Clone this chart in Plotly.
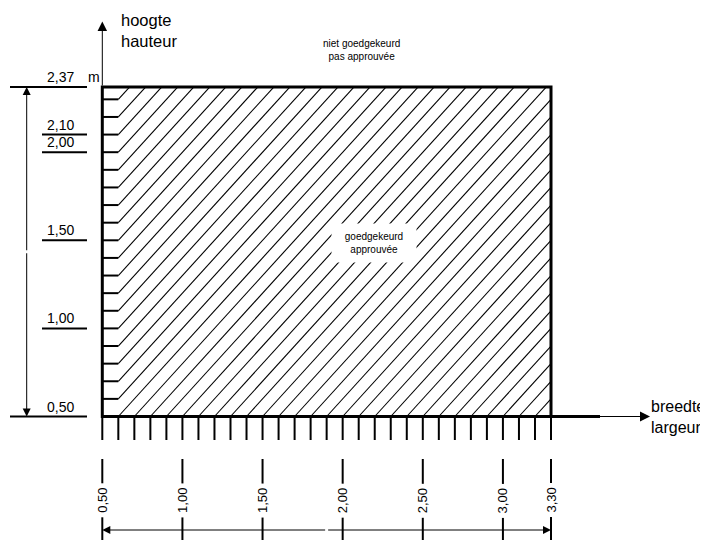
import numpy as np
import plotly.graph_objects as go

# ---------------- data ----------------
approved_width = [0.50, 3.30]      # breedte / largeur (m)
approved_height = [0.50, 2.37]     # hoogte / hauteur (m)
width_ticks = [0.50, 1.00, 1.50, 2.00, 2.50, 3.00, 3.30]
width_labels = ["0,50", "1,00", "1,50", "2,00", "2,50", "3,00", "3,30"]
height_ticks = [0.50, 1.00, 1.50, 2.00, 2.10, 2.37]
height_labels = ["0,50", "1,00", "1,50", "2,00", "2,10", "2,37"]
grid_step = 0.10
area_labels = ["goedgekeurd<br>approuvée", "niet goedgekeurd<br>pas approuvée"]
axis_titles = ["breedte<br>largeur", "hoogte<br>hauteur"]
unit_label = "m"

# ---------------- canvas geometry ----------------
PAGE_OFFSET = 8                       # default body margin of the html page
W, H = 708 - PAGE_OFFSET, 540 - PAGE_OFFSET
X_ORIGIN_PX, X_SCALE = 102.3, 160.25   # window pixel of x=0.50, px per metre
Y_ORIGIN_PX, Y_SCALE = 416.5, 176.2    # window pixel of y=0.50, px per metre
x_range = [approved_width[0] - (X_ORIGIN_PX - PAGE_OFFSET) / X_SCALE,
           approved_width[0] + (PAGE_OFFSET + W - X_ORIGIN_PX) / X_SCALE]
y_range = [approved_height[0] - (PAGE_OFFSET + H - Y_ORIGIN_PX) / Y_SCALE,
           approved_height[0] + (Y_ORIGIN_PX - PAGE_OFFSET) / Y_SCALE]


def px_x(p):
    return x_range[0] + (p - PAGE_OFFSET) / X_SCALE


def px_y(p):
    return y_range[1] - (p - PAGE_OFFSET) / Y_SCALE


FONT = "Arial, Liberation Sans, sans-serif"
BLACK = "#000000"

xa, xb = approved_width
ya, yb = approved_height

fig = go.Figure()

# ---- hatch (lines y = x + c) inside [xa+step, xb] x [ya, yb] ----
hx0 = xa + grid_step
hx, hy = [], []
n_neg = int(round((xb - hx0) / grid_step))
n_pos = int(round((yb - ya) / grid_step))
for k in range(-n_neg, n_pos + 1):
    c = ya - hx0 + k * grid_step
    xs = max(hx0, ya - c)
    xe = min(xb, yb - c)
    if xe - xs > 1e-6:
        hx += [xs, xe, None]
        hy += [xs + c, xe + c, None]
fig.add_trace(go.Scatter(x=hx, y=hy, mode="lines", hoverinfo="skip",
                         line=dict(color=BLACK, width=1.1), showlegend=False))

# ---- left inner ticks (every grid step) ----
lx, ly = [], []
n_left = int(round((yb - ya) / grid_step))
for k in range(1, n_left + 1):
    yv = ya + k * grid_step
    if yv < yb - 1e-6:
        lx += [xa, hx0, None]
        ly += [yv, yv, None]
fig.add_trace(go.Scatter(x=lx, y=ly, mode="lines", hoverinfo="skip",
                         line=dict(color=BLACK, width=2), showlegend=False))

# ---- bottom ticks (every grid step) ----
bx, by = [], []
n_bot = int(round((xb - xa) / grid_step))
for k in range(0, n_bot + 1):
    xv = xa + k * grid_step
    bx += [xv, xv, None]
    by += [ya, px_y(440), None]
fig.add_trace(go.Scatter(x=bx, y=by, mode="lines", hoverinfo="skip",
                         line=dict(color=BLACK, width=2), showlegend=False))

# ---- bottom label guide lines ----
gx, gy = [], []
for xv in width_ticks:
    gx += [xv, xv, None]
    gy += [px_y(459), px_y(548), None]
fig.add_trace(go.Scatter(x=gx, y=gy, mode="lines", hoverinfo="skip",
                         line=dict(color=BLACK, width=2), showlegend=False))

# ---- left label underlines ----
ux, uy = [], []
for yv in height_ticks:
    start = 10 if yv in (min(height_ticks), max(height_ticks)) else 42
    ux += [px_x(start), px_x(87), None]
    uy += [yv, yv, None]
fig.add_trace(go.Scatter(x=ux, y=uy, mode="lines", hoverinfo="skip",
                         line=dict(color=BLACK, width=2), showlegend=False))

# ---- approved area outline + baseline extension ----
fig.add_shape(type="rect", x0=xa, x1=xb, y0=ya, y1=yb,
              line=dict(color=BLACK, width=3), layer="above")
fig.add_shape(type="line", x0=xb, x1=px_x(600), y0=ya, y1=ya,
              line=dict(color=BLACK, width=3), layer="above")

annotations = []


def arrow(x_head, y_head, x_tail, y_tail, size=2.0, width=1.0):
    annotations.append(dict(
        x=x_head, y=y_head, ax=x_tail, ay=y_tail, xref="x", yref="y",
        axref="x", ayref="y", text="", showarrow=True, arrowhead=2,
        arrowsize=size, arrowwidth=width, arrowcolor=BLACK,
        font=dict(size=1), standoff=0, startstandoff=0))


# axis arrows
arrow(xa, px_y(21.5), xa, yb, size=1.9)
arrow(px_x(650), ya, px_x(578), ya, size=2.0)
# vertical dimension arrow
dim_x = px_x(26.7)
ymid = (ya + yb) / 2
arrow(dim_x, yb, dim_x, ymid, size=1.6)
arrow(dim_x, ya, dim_x, ymid, size=1.6)
# horizontal dimension arrow
dim_y = px_y(530)
xmid = (xa + xb) / 2
arrow(xa, dim_y, xmid, dim_y, size=1.6)
arrow(xb, dim_y, xmid, dim_y, size=1.6)

# height labels
for yv, lab in zip(height_ticks, height_labels):
    annotations.append(dict(x=px_x(76), y=yv, xref="x", yref="y", text=lab,
                            showarrow=False, xanchor="right", yanchor="bottom",
                            font=dict(family=FONT, size=14, color=BLACK)))
# width labels (rotated)
for xv, lab in zip(width_ticks, width_labels):
    annotations.append(dict(x=xv, y=px_y(500.5), xref="x", yref="y", text=lab,
                            showarrow=False, textangle=-90, bgcolor="white",
                            borderpad=4,
                            font=dict(family=FONT, size=13, color=BLACK)))
# unit
annotations.append(dict(x=px_x(102), y=yb, xref="x", yref="y", text=unit_label,
                        showarrow=False, xanchor="right", yanchor="bottom",
                        font=dict(family=FONT, size=14, color=BLACK)))
# axis titles
annotations.append(dict(x=px_x(119), y=px_y(30), xref="x", yref="y",
                        text=axis_titles[1], showarrow=False, xanchor="left",
                        yanchor="middle", align="left",
                        font=dict(family=FONT, size=16.5, color=BLACK)))
annotations.append(dict(x=px_x(649), y=ya, xref="x", yref="y",
                        text=axis_titles[0], showarrow=False, xanchor="left",
                        yanchor="middle", align="left",
                        font=dict(family=FONT, size=16, color=BLACK)))
# area labels
annotations.append(dict(x=px_x(374), y=px_y(243), xref="x", yref="y",
                        text=area_labels[0], showarrow=False, bgcolor="white",
                        width=72, height=26, borderpad=6,
                        font=dict(family=FONT, size=10, color=BLACK)))
annotations.append(dict(x=px_x(361), y=px_y(50), xref="x", yref="y",
                        text=area_labels[1], showarrow=False,
                        font=dict(family=FONT, size=10, color=BLACK)))

fig.update_layout(
    width=W, height=H, autosize=False,
    margin=dict(l=0, r=0, t=0, b=0, pad=0),
    paper_bgcolor="white", plot_bgcolor="white",
    xaxis=dict(range=x_range, visible=False, fixedrange=True),
    yaxis=dict(range=y_range, visible=False, fixedrange=True),
    annotations=annotations, showlegend=False,
)

fig.write_html("out.html", config={"displayModeBar": False})
